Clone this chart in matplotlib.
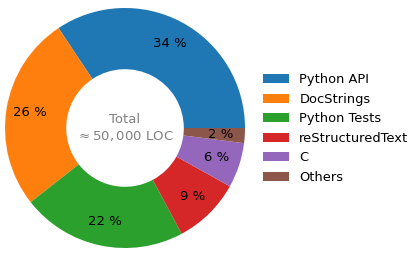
import matplotlib.pyplot as plt

# share of lines of code per category
labels = ['Python API', 'DocStrings', 'Python Tests', 'reStructuredText', 'C', 'Others']
loc_share = [34, 26, 22, 9, 6, 2]

fig = plt.figure(figsize=(4.16, 2.57), dpi=100)
ax = fig.add_axes([5/416, 9/257, 240/416, 240/257])

wedges, texts, autotexts = ax.pie(loc_share, startangle=0, counterclock=True,
                                  autopct='%1.0f %%', pctdistance=0.8,
                                  wedgeprops=dict(width=0.51),
                                  textprops=dict(fontsize=9.5))
ax.set_xlim(-1, 1)
ax.set_ylim(-1, 1)
ax.set_aspect('equal')

ax.text(0, 0, 'Total\n$\\approx 50,000$ LOC', ha='center', va='center',
        fontsize=9.5, color='gray')

fig.legend(wedges, labels, loc='center left', bbox_to_anchor=(251/416, 0.5),
           frameon=False, fontsize=9.4)

fig.savefig('out.png')
